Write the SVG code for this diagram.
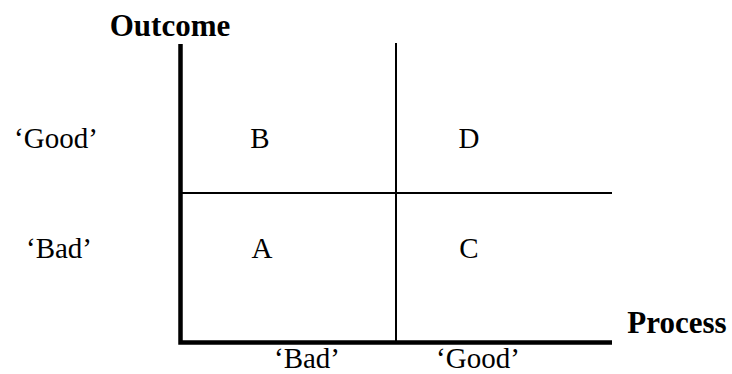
<svg xmlns="http://www.w3.org/2000/svg" width="732" height="374" viewBox="0 0 732 374">
<style>
text{font-family:"Liberation Serif","Times New Roman",serif;fill:#000;text-anchor:middle}
.lbl{font-size:29px}
.ax{font-size:31px;font-weight:bold}
.thick{stroke:#000;stroke-width:4.5;fill:none}
.thin{stroke:#000;stroke-width:2;fill:none}
</style>
<rect width="732" height="374" fill="#fff"/>
<g id="connectors">
<line class="thin" x1="396" y1="43" x2="396" y2="342"/>
<line class="thin" x1="181" y1="193" x2="612" y2="193"/>
<polyline class="thick" points="180.5,44 180.5,342.5 612,342.5"/>
</g>
<g id="axis-outcome"><text class="ax" x="170" y="36">Outcome</text></g>
<g id="axis-process"><text class="ax" x="677" y="333">Process</text></g>
<g id="y-good"><text class="lbl" x="56" y="148">‘Good’</text></g>
<g id="y-bad"><text class="lbl" x="59" y="258">‘Bad’</text></g>
<g id="x-bad"><text class="lbl" x="307" y="367.5">‘Bad’</text></g>
<g id="x-good"><text class="lbl" x="478" y="367.5">‘Good’</text></g>
<g id="cell-B"><text class="lbl" x="260" y="148">B</text></g>
<g id="cell-D"><text class="lbl" x="469" y="148">D</text></g>
<g id="cell-A"><text class="lbl" x="262" y="258">A</text></g>
<g id="cell-C"><text class="lbl" x="469" y="258">C</text></g>
</svg>
